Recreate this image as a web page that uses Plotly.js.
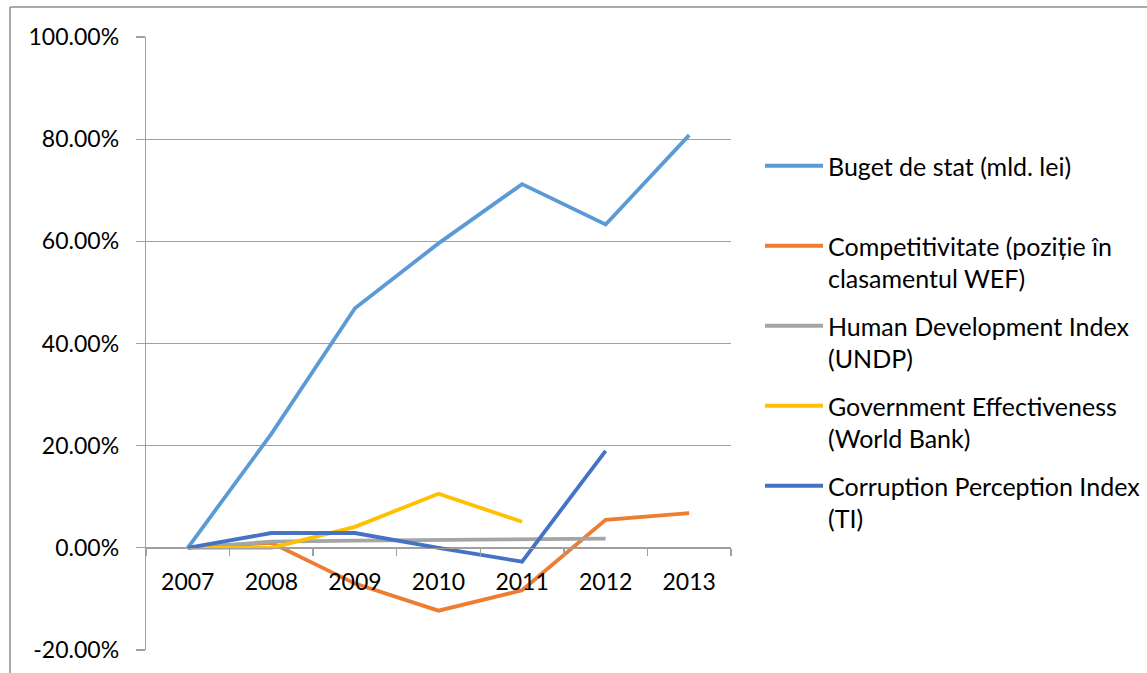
<!DOCTYPE html>
<html>
<head>
<meta charset="utf-8">
<script src="https://cdn.plot.ly/plotly-3.0.1.min.js"></script>
<style>
  html, body { margin: 0; padding: 0; background: #fff; }
  #chart { width: 1147px; height: 673px; }
</style>
</head>
<body>
<div id="chart"></div>
<script>
// ---- data (percent change vs 2007) ----
const years = ["2007", "2008", "2009", "2010", "2011", "2012", "2013"];
const seriesNames = [
  "Buget de stat (mld. lei)<br> ",
  "Competitivitate (poziție în<br>clasamentul WEF)",
  "Human Development Index<br>(UNDP)",
  "Government Effectiveness<br>(World Bank)",
  "Corruption Perception Index<br>(TI)"
];
const bugetStat = [0, 22.3, 46.9, 59.6, 71.2, 63.3, 80.8];
const competitivitate = [0, 1.0, -7.0, -12.3, -8.3, 5.5, 6.8];
const hdi = [0, 1.2, 1.4, 1.5, 1.6, 1.8, null];
const govEffectiveness = [0, 0, 4.1, 10.6, 5.1, null, null];
const cpi = [0, 2.9, 2.9, 0, -2.7, 19.0, null];
const yTicks = [-20, 0, 20, 40, 60, 80, 100];
const yTickText = yTicks.map(v => v.toFixed(2) + "%");

const colors = ["#5B9BD5", "#ED7D31", "#A5A5A5", "#FFC000", "#4472C4"];
const allSeries = [bugetStat, competitivitate, hdi, govEffectiveness, cpi];

// ---- layout geometry (px) ----
const W = 1147, H = 673;
const plotL = 146, plotR = 731, plotT = 37, plotB = 650;
const pw = plotR - plotL, ph = plotB - plotT;
const px2x = p => (p - plotL) / pw;
const px2y = p => (plotB - p) / ph;

const FONT = "Lato, 'Open Sans', sans-serif";
const axisGray = "#a0a0a0";

const traces = allSeries.map((vals, i) => ({
  type: "scatter",
  mode: "lines",
  x: years,
  y: vals,
  name: seriesNames[i],
  legendgroup: "g" + i,
  line: { color: colors[i], width: 3.8 },
  connectgaps: false,
  hoverinfo: "skip"
}));

const layout = {
  width: W, height: H,
  margin: { l: plotL, r: W - plotR, t: plotT, b: H - plotB, pad: 0, autoexpand: false },
  paper_bgcolor: "#ffffff",
  plot_bgcolor: "#ffffff",
  font: { family: FONT, size: 23, color: "#000000" },
  showlegend: true,
  legend: {
    x: px2x(760), y: px2y(143), xanchor: "left", yanchor: "top",
    valign: "top",
    itemwidth: 58,
    font: { family: FONT, size: 25, color: "#000" },
    tracegroupgap: 12,
    bgcolor: "rgba(0,0,0,0)",
    borderwidth: 0
  },
  xaxis: {
    type: "category",
    range: [-0.5, 6.5],
    anchor: "free",
    position: 1 / 6,
    showline: true, linecolor: axisGray, linewidth: 1.3,
    ticks: "outside", tickson: "boundaries", ticklen: 7, tickcolor: axisGray, tickwidth: 1.3,
    ticklabelstandoff: 13,
    showgrid: false, zeroline: false,
    tickfont: { family: FONT, size: 23, color: "#000" },
    fixedrange: true
  },
  yaxis: {
    range: [-20, 100],
    tickmode: "array",
    tickvals: yTicks,
    ticktext: yTickText,
    showline: true, linecolor: axisGray, linewidth: 1.3,
    ticks: "outside", ticklen: 9, tickcolor: axisGray, tickwidth: 1.3,
    ticklabelstandoff: 12,
    showgrid: true, gridcolor: axisGray, gridwidth: 1.3,
    zeroline: false,
    tickfont: { family: FONT, size: 23, color: "#000" },
    fixedrange: true
  },
  shapes: [
    { type: "line", xref: "paper", yref: "paper",
      x0: px2x(10), x1: px2x(W), y0: px2y(7), y1: px2y(7),
      line: { color: "#8c8c8c", width: 1.5 } },
    { type: "line", xref: "paper", yref: "paper",
      x0: px2x(10), x1: px2x(10), y0: px2y(7), y1: px2y(H),
      line: { color: "#8c8c8c", width: 1.5 } }
  ]
};

Plotly.newPlot("chart", traces, layout, { displayModeBar: false, staticPlot: true });
</script>
</body>
</html>
